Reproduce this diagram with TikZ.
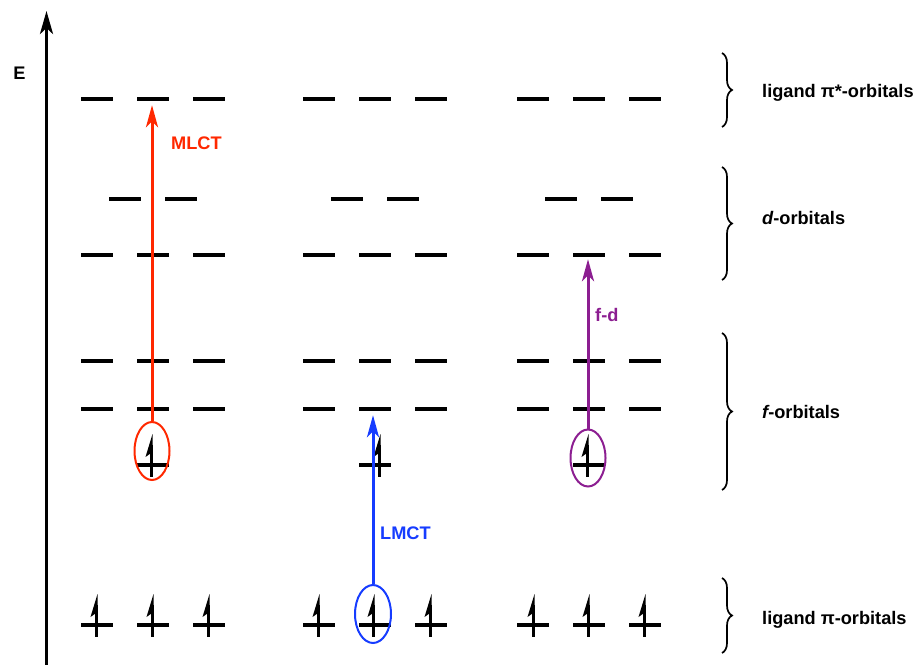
\documentclass[tikz,border=0pt]{standalone}
\usepackage{fontspec}
\setmainfont{Liberation Sans}
\usetikzlibrary{arrows.meta,shapes.geometric,decorations.pathreplacing}
\definecolor{mlctred}{RGB}{255,40,0}
\definecolor{lmctblue}{RGB}{22,60,255}
\definecolor{fdpurple}{RGB}{140,30,145}
\begin{document}
\begin{tikzpicture}[x=1pt,y=-1pt,
  lvl/.style={fill=black, minimum width=32pt, minimum height=3.4pt, inner sep=0pt, outer sep=0pt},
  spot/.style={ellipse, draw, line width=2pt, minimum width=35pt, minimum height=58pt, inner sep=0pt},
  ct/.style={line width=3pt, -{Stealth[length=22pt,width=12pt,inset=6pt]}},
  lab/.style={font=\fontsize{18.2}{21}\selectfont\bfseries, inner sep=0pt},
  grp/.style={decorate, decoration={brace, amplitude=10pt}, line width=1.7pt},
  spinup/.pic={
    \draw[line width=3pt] (0,-20) -- (0,12);
    \fill (1.5,-31) -- (-5.5,-8) -- (1.5,-13) -- cycle;
  }
]
\useasboundingbox (0,0) rectangle (917,664);

% energy axis
\coordinate (axisbottom) at (46.5,666);
\coordinate (axistop) at (46.5,11);
\draw[line width=3.2pt, -{Stealth[length=23pt,width=13pt,inset=6pt]}] (axisbottom) -- (axistop);
\node[lab] (E) at (19.5,73) {E};

% orbital levels for the three complexes
\foreach \g/\x in {1/97, 2/319, 3/533} {
  \foreach \i in {0,1,2} {
    \node[lvl] (g\g-ps-\i) at ({\x+56*\i},99) {};
    \node[lvl] (g\g-dl-\i) at ({\x+56*\i},255) {};
    \node[lvl] (g\g-fu-\i) at ({\x+56*\i},361) {};
    \node[lvl] (g\g-fl-\i) at ({\x+56*\i},409) {};
    \node[lvl] (g\g-lp-\i) at ({\x+56*\i},625) {};
  }
  \foreach \i in {0,1} {
    \node[lvl] (g\g-du-\i) at ({\x+28+56*\i},199) {};
  }
  \node[lvl] (g\g-fe) at ({\x+56},465) {};
}

% electrons
\foreach \x in {96,152,208, 318,430, 533,588,644} {
  \pic at (\x,625) {spinup};
}
\pic at (373,625) {spinup};
\pic at (151,465) {spinup};
\pic at (379,465) {spinup};
\pic at (587,465) {spinup};

% highlighted electrons
\node[spot, draw=mlctred] (e1) at (152,451) {};
\node[spot, draw=lmctblue, minimum width=36pt] (e2) at (373,614) {};
\node[spot, draw=fdpurple, minimum height=57pt] (e3) at (588,458) {};

% charge-transfer transitions
\draw[ct, draw=mlctred, fill=mlctred, shorten >=4.5pt] (e1.north) -- (e1.north |- g1-ps-1.south);
\draw[ct, draw=lmctblue, fill=lmctblue, shorten >=4.5pt] (e2.north) -- (e2.north |- g2-fl-1.south);
\draw[ct, draw=fdpurple, fill=fdpurple, shorten >=2.5pt] (e3.north) -- (e3.north |- g3-dl-1.south);

\node[lab, text=mlctred, anchor=west] (mlct) at (171,143) {MLCT};
\node[lab, text=lmctblue, anchor=west] (lmct) at (380,533) {LMCT};
\node[lab, text=fdpurple, anchor=west] (fd) at (595,315) {f-d};

% groups of orbitals
\draw[grp] (722,53) -- (722,127);
\draw[grp] (722,167) -- (722,280);
\draw[grp] (722,333) -- (722,490);
\draw[grp] (722,578) -- (722,653);

\node[lab, anchor=west] (lps) at (762,93) {ligand π*-orbitals};
\node[lab, anchor=west] (ldo) at (762,218) {\itshape d\upshape-orbitals};
\node[lab, anchor=west] (lfo) at (762,412) {\itshape f\upshape-orbitals};
\node[lab, anchor=west] (llp) at (762,620) {ligand π-orbitals};
\end{tikzpicture}
\end{document}
